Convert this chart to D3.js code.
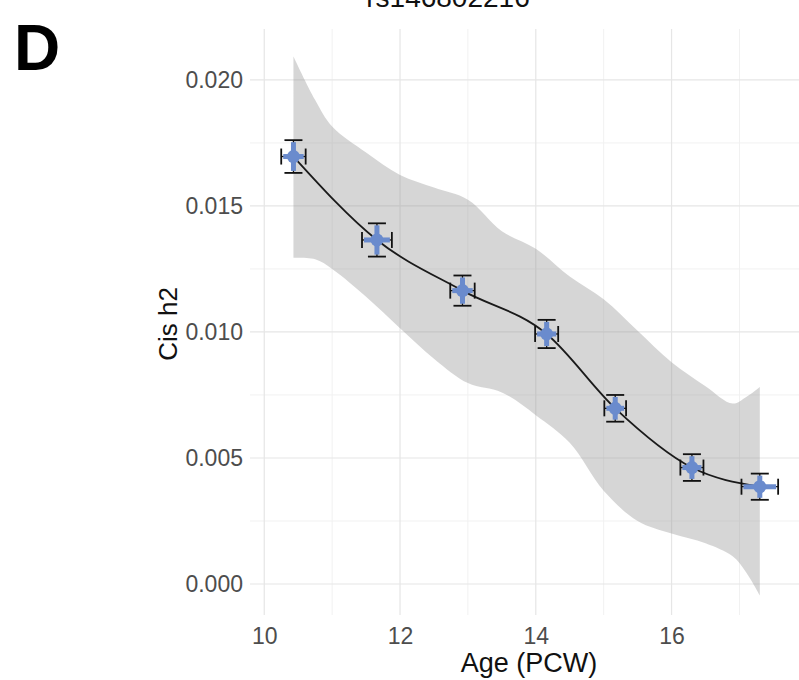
<!DOCTYPE html>
<html><head><meta charset="utf-8">
<script src="https://cdn.jsdelivr.net/npm/d3@7"></script>
<style>body{margin:0;background:#fff;} svg{display:block;font-family:"Liberation Sans",Arial,Helvetica,sans-serif;}</style>
</head><body><svg id="chart" width="799" height="680"></svg>
<script>
// ---- data ----
const title = "rs146802216";
const panelLabel = "D";
const xLabel = "Age (PCW)";
const yLabel = "Cis h2";
const ages   = [10.43, 11.66, 12.92, 14.16, 15.17, 16.30, 17.30];
const ageErr = [0.18, 0.22, 0.18, 0.17, 0.16, 0.17, 0.27];
const h2     = [0.01696, 0.01365, 0.01164, 0.00992, 0.00697, 0.00462, 0.00386];
const h2Err  = [0.00065, 0.00066, 0.00060, 0.00056, 0.00053, 0.00053, 0.00052];
const bandAge   = [10.43, 10.75, 11.0, 11.5, 12.0, 12.5, 13.0, 13.5, 14.0, 14.5, 15.0, 15.5, 16.0, 16.5, 16.9, 17.1, 17.3];
const bandUpper = [0.02093, 0.0192, 0.01815, 0.01712, 0.01623, 0.01573, 0.01525, 0.0140, 0.0133, 0.0122, 0.0113, 0.01005, 0.0088, 0.00785, 0.00716, 0.00742, 0.00782];
const bandLower = [0.01294, 0.01288, 0.0125, 0.0114, 0.01015, 0.00894, 0.00797, 0.0076, 0.0067, 0.0056, 0.0037, 0.0025, 0.0020, 0.00162, 0.0011, 0.00046, -0.00045];
const xTicks = [10, 12, 14, 16];
const xMinorTicks = [11, 13, 15, 17];
const yTicks = [0, 0.005, 0.010, 0.015, 0.020];
const yMinorTicks = [0.0025, 0.0075, 0.0125, 0.0175];

// ---- layout ----
const svg = d3.select("#chart");
const L = 250, R = 808, T = 29, B = 615;
const x = d3.scaleLinear().domain([9.79, 18.01]).range([L, R]);
const y = d3.scaleLinear().domain([-0.00123, 0.02202]).range([B, T]);

const grid = svg.append("g");
grid.selectAll(".vmin").data(xMinorTicks).join("line")
  .attr("x1", d => x(d)).attr("x2", d => x(d)).attr("y1", T).attr("y2", B)
  .attr("stroke", "#f1f1f1").attr("stroke-width", 1);
grid.selectAll(".hmin").data(yMinorTicks).join("line")
  .attr("y1", d => y(d)).attr("y2", d => y(d)).attr("x1", L).attr("x2", R)
  .attr("stroke", "#f1f1f1").attr("stroke-width", 1);
grid.selectAll(".vmaj").data(xTicks).join("line")
  .attr("x1", d => x(d)).attr("x2", d => x(d)).attr("y1", T).attr("y2", B)
  .attr("stroke", "#e6e6e6").attr("stroke-width", 1.2);
grid.selectAll(".hmaj").data(yTicks).join("line")
  .attr("y1", d => y(d)).attr("y2", d => y(d)).attr("x1", L).attr("x2", R)
  .attr("stroke", "#e6e6e6").attr("stroke-width", 1.2);

// ribbon
const bandData = bandAge.map((a, i) => ({a, lo: bandLower[i], hi: bandUpper[i]}));
svg.append("path").datum(bandData)
  .attr("d", d3.area().x(d => x(d.a)).y0(d => y(d.lo)).y1(d => y(d.hi)).curve(d3.curveCatmullRom.alpha(0.5)))
  .attr("fill", "#999999").attr("fill-opacity", 0.4);

// line
const pts = ages.map((a, i) => ({a, v: h2[i], ea: ageErr[i], ev: h2Err[i]}));
svg.append("path").datum(pts)
  .attr("d", d3.line().x(d => x(d.a)).y(d => y(d.v)).curve(d3.curveMonotoneX))
  .attr("fill", "none").attr("stroke", "#1a1a1a").attr("stroke-width", 1.8);

// error bars + points
const blue = "#6a8bcd";
const g = svg.append("g").selectAll("g").data(pts).join("g");
g.append("line").attr("x1", d => x(d.a)).attr("x2", d => x(d.a))
  .attr("y1", d => y(d.v - d.ev)).attr("y2", d => y(d.v + d.ev)).attr("stroke", "#111").attr("stroke-width", 1.3);
g.append("line").attr("x1", d => x(d.a) - 9).attr("x2", d => x(d.a) + 9)
  .attr("y1", d => y(d.v + d.ev)).attr("y2", d => y(d.v + d.ev)).attr("stroke", "#111").attr("stroke-width", 1.8);
g.append("line").attr("x1", d => x(d.a) - 9).attr("x2", d => x(d.a) + 9)
  .attr("y1", d => y(d.v - d.ev)).attr("y2", d => y(d.v - d.ev)).attr("stroke", "#111").attr("stroke-width", 1.8);
g.append("line").attr("y1", d => y(d.v)).attr("y2", d => y(d.v))
  .attr("x1", d => x(d.a - d.ea)).attr("x2", d => x(d.a + d.ea)).attr("stroke", "#111").attr("stroke-width", 1.3);
g.append("line").attr("y1", d => y(d.v) - 8).attr("y2", d => y(d.v) + 8)
  .attr("x1", d => x(d.a - d.ea)).attr("x2", d => x(d.a - d.ea)).attr("stroke", "#111").attr("stroke-width", 1.8);
g.append("line").attr("y1", d => y(d.v) - 8).attr("y2", d => y(d.v) + 8)
  .attr("x1", d => x(d.a + d.ea)).attr("x2", d => x(d.a + d.ea)).attr("stroke", "#111").attr("stroke-width", 1.8);
g.append("line").attr("x1", d => x(d.a)).attr("x2", d => x(d.a))
  .attr("y1", d => y(d.v - d.ev) - 2).attr("y2", d => y(d.v + d.ev) + 2).attr("stroke", blue).attr("stroke-width", 5);
g.append("line").attr("y1", d => y(d.v)).attr("y2", d => y(d.v))
  .attr("x1", d => x(d.a - d.ea) + 2).attr("x2", d => x(d.a + d.ea) - 2).attr("stroke", blue).attr("stroke-width", 5);
g.append("circle").attr("cx", d => x(d.a)).attr("cy", d => y(d.v)).attr("r", 6.5).attr("fill", blue);

// axes
const yAxis = svg.append("g").attr("transform", `translate(${L},0)`)
  .call(d3.axisLeft(y).tickValues(yTicks).tickFormat(d3.format(".3f")).tickSize(0).tickPadding(7));
yAxis.select(".domain").remove();
yAxis.selectAll("text").attr("font-size", 23).attr("fill", "#4d4d4d").attr("font-family", "Liberation Sans, Arial, sans-serif");

const xAxis = svg.append("g").attr("transform", `translate(0,${B})`)
  .call(d3.axisBottom(x).tickValues(xTicks).tickFormat(d3.format("d")).tickSize(0));
xAxis.select(".domain").remove();
xAxis.selectAll("text").attr("y", 29).attr("dy", null).attr("font-size", 23).attr("fill", "#4d4d4d").attr("font-family", "Liberation Sans, Arial, sans-serif");

// titles
svg.append("text").attr("x", 529).attr("y", 672).attr("text-anchor", "middle")
  .attr("font-size", 27).attr("fill", "#111").text(xLabel);
svg.append("text").attr("transform", "translate(177,324) rotate(-90)").attr("text-anchor", "middle")
  .attr("font-size", 26).attr("fill", "#111").text(yLabel);
svg.append("text").attr("x", 448).attr("y", 7).attr("text-anchor", "middle")
  .attr("font-size", 28).attr("fill", "#111").text(title);
svg.append("text").attr("x", 14).attr("y", 70)
  .attr("font-size", 64).attr("font-weight", "bold").attr("fill", "#000").text(panelLabel);
</script></body></html>
